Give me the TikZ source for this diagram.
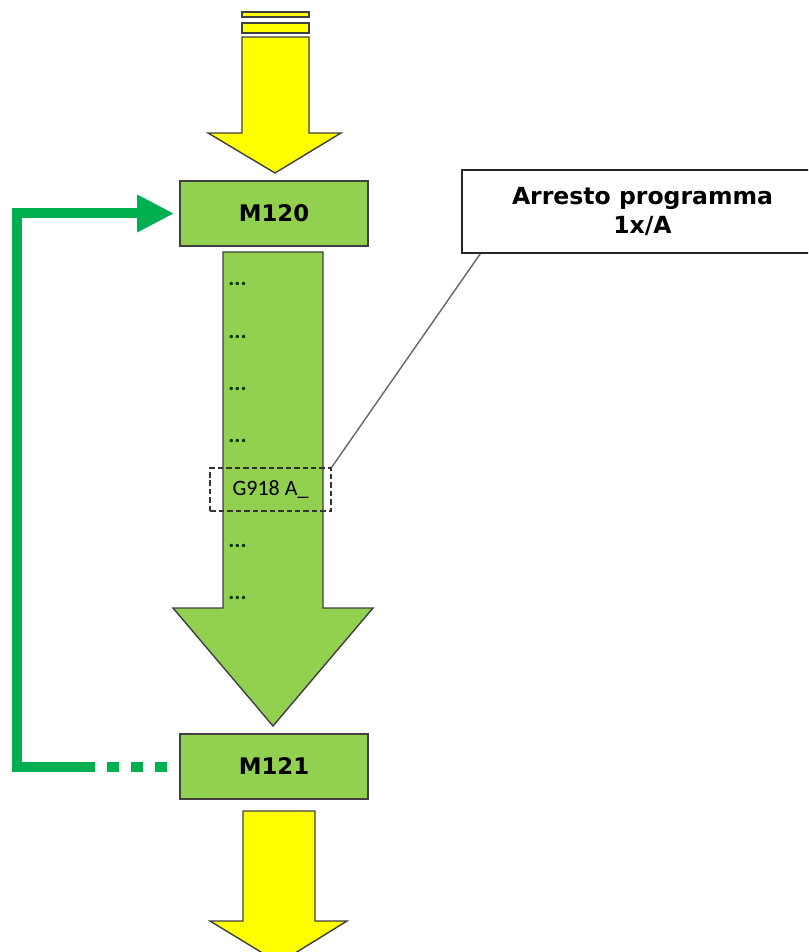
\documentclass[tikz,border=0pt]{standalone}
\usepackage{fontspec}
\setmainfont{DejaVu Sans}
\newfontfamily\calibrifont{Carlito}
\usepackage{tikz}
\usetikzlibrary{arrows.meta, positioning}
\definecolor{BlockGreen}{RGB}{146, 208, 80}
\definecolor{LoopGreen} {RGB}{0, 176, 80}
\definecolor{FlowYellow}{RGB}{255, 255, 0}
\definecolor{EdgeGrey}  {RGB}{64, 64, 64}

\begin{document}
\begin{tikzpicture}[
  x=0.02cm, y=-0.02cm,
  block/.style={draw=EdgeGrey, fill=BlockGreen, line width=0.9pt,
                minimum width=3.76cm, minimum height=1.3cm,
                font=\fontsize{13}{15}\selectfont\bfseries},
  yellowarrow/.style={draw=EdgeGrey, fill=FlowYellow, line width=0.8pt},
  greenarrow/.style={draw=EdgeGrey, fill=BlockGreen, line width=0.8pt},
  dots/.style={anchor=base west, inner sep=0pt, text=black!80!green,
               font=\calibrifont\bfseries\fontsize{13}{15}\selectfont},
  markbox/.style={draw=black!80, line width=0.7pt, dash pattern=on 0.11cm off 0.06cm,
                  minimum width=2.42cm, minimum height=0.86cm,
                  font=\calibrifont\fontsize{12.5}{14}\selectfont},
  callout/.style={draw=black!85, fill=white, line width=0.9pt, align=center,
                  minimum width=7.22cm, minimum height=1.66cm,
                  font=\fontsize{13.4}{16}\selectfont\bfseries},
  loopline/.style={LoopGreen, line width=0.2cm}
]
  \useasboundingbox (0,0) rectangle (808,952);
  \clip (0,0) rectangle (808,952);

  % incoming flow
  \draw[yellowarrow] (242,12) rectangle (309,17);
  \draw[yellowarrow] (242,23) rectangle (309,33);
  \draw[yellowarrow] (242,37) -- (309,37) -- (309,133) -- (341,133)
    -- (275,173) -- (208,133) -- (242,133) -- cycle;

  \node[block] (m120) at (274,213.5) {M120};

  % program body
  \draw[greenarrow] (223,252) -- (323,252) -- (323,608) -- (373,608)
    -- (273,726) -- (173,608) -- (223,608) -- cycle;
  \foreach \y in {286,338,390,442,547,599}
    \node[dots] at (228,\y) {...};
  \node[markbox] (g918) at (270.5,489.5) {G918 A\_};

  \node[block] (m121) at (274,766.5) {M121};

  % outgoing flow
  \draw[yellowarrow] (243,811) -- (315,811) -- (315,921) -- (347,921)
    -- (279,963) -- (210,921) -- (243,921) -- cycle;

  % note
  \node[callout] (note) at (642.5,211.5) {Arresto programma\\1x/A};
  \draw[black!60, line width=0.8pt] ([xshift=0.38cm]note.south west) -- (g918.north east);

  % loop back
  \coordinate (gap) at (95,766.5);
  \coordinate (lft) at (17,0);
  \draw[loopline, dash pattern=on 0.23cm off 0.25cm, dash phase=0.23cm] (m121.west) -- (gap);
  \draw[loopline, -{Triangle[length=0.74cm, width=0.7cm]}, shorten >=0.1cm]
    (gap) -| (lft |- m120.west) -- (m120.west);
\end{tikzpicture}
\end{document}
